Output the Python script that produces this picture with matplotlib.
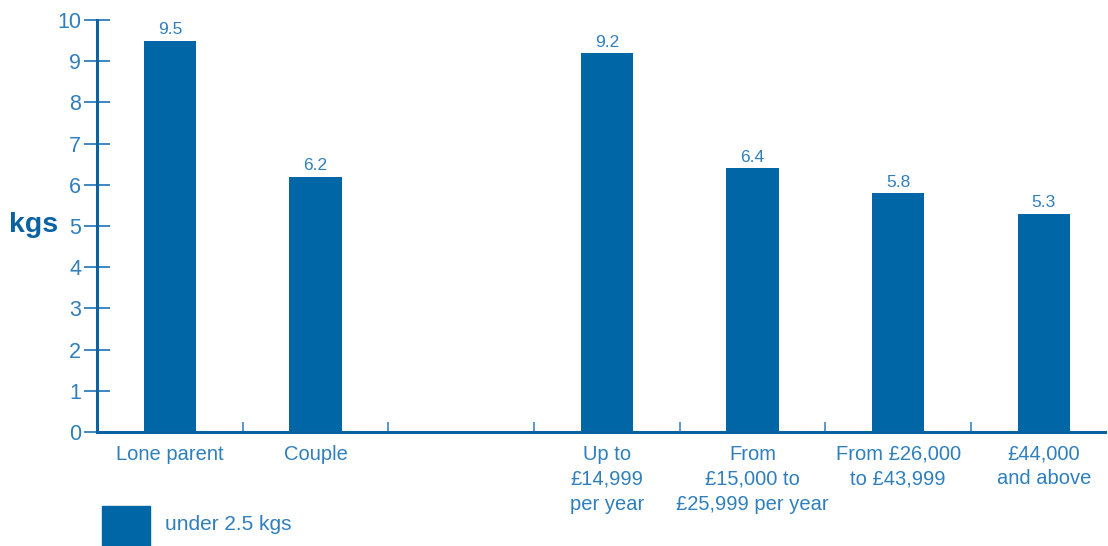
import matplotlib.pyplot as plt
import numpy as np
from matplotlib.patches import Rectangle

plt.rcParams['font.family'] = ['Liberation Sans', 'DejaVu Sans']

# data
categories = ["Lone parent", "Couple", "",
              "Up to\n£14,999\nper year",
              "From\n£15,000 to\n£25,999 per year",
              "From £26,000\nto £43,999",
              "£44,000\nand above"]
values = [9.5, 6.2, np.nan, 9.2, 6.4, 5.8, 5.3]
series_name = "under 2.5 kgs"
yticks = list(range(0, 11))

bar_col = "#0066a6"
txt_col = "#2f7fbd"
axis_col = "#0a62a3"

fig = plt.figure(figsize=(11.08, 5.46), dpi=100)
ax = fig.add_axes([97/1108, 1-432/546, (1105-97)/1108, 412/546])

x = np.arange(len(categories))
ax.bar(x, values, width=0.36, color=bar_col, zorder=2)
for xi, v in zip(x, values):
    if not np.isnan(v):
        ax.text(xi, v + 0.08, f"{v:.1f}", ha="center", va="bottom",
                fontsize=12.5, color=txt_col)

ax.set_xlim(-0.5, 6.42)
ax.set_ylim(0, 10)

for s in ["top", "right"]:
    ax.spines[s].set_visible(False)
for s in ["left", "bottom"]:
    ax.spines[s].set_color(axis_col)
    ax.spines[s].set_linewidth(2.2)

ax.set_yticks(yticks)
ax.set_yticklabels([str(t) for t in yticks])
ax.tick_params(axis="y", direction="inout", length=19, width=1.4,
               color="#3d87c2", labelsize=15.5, labelcolor=txt_col, pad=2)

ax.set_xticks(x)
ax.set_xticklabels(categories, fontsize=14.5, color=txt_col, linespacing=1.4)
ax.tick_params(axis="x", which="major", length=0, pad=9)
ax.set_xticks(x[:-1] + 0.5, minor=True)
ax.tick_params(axis="x", which="minor", direction="in", length=7, width=1.2,
               color="#3d87c2")

fig.text(9/1108, 1-225/546, "kgs", fontsize=20.5, fontweight="bold",
         color=axis_col, va="center", ha="left")

# legend
fig.patches.append(Rectangle((102/1108, 0), 48/1108, 40/546,
                             transform=fig.transFigure, color=bar_col,
                             figure=fig))
fig.text(165/1108, 1-525/546, series_name, fontsize=15, color=txt_col,
         va="center", ha="left")

fig.savefig("out.png", dpi=100)
